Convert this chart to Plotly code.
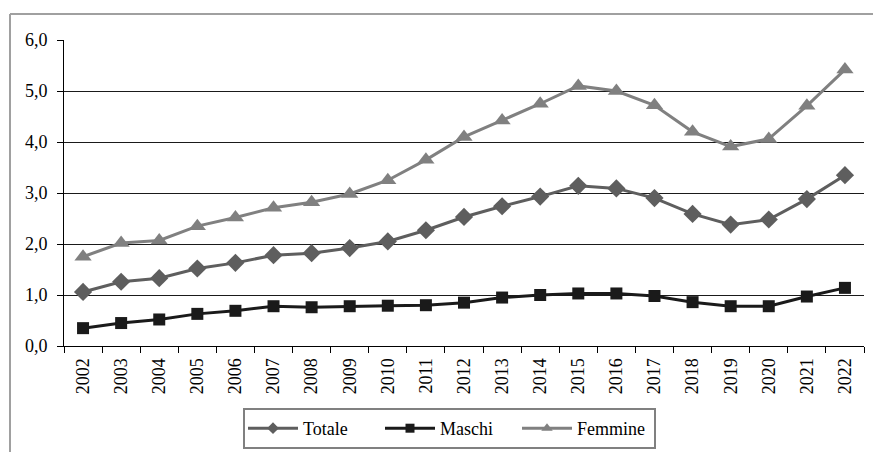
import plotly.graph_objects as go

years = [str(y) for y in range(2002, 2023)]
totale = [1.06, 1.26, 1.33, 1.52, 1.63, 1.78, 1.82, 1.92, 2.05, 2.27, 2.53, 2.74, 2.93, 3.14, 3.09, 2.90, 2.59, 2.38, 2.48, 2.88, 3.35]
maschi = [0.35, 0.45, 0.52, 0.63, 0.69, 0.78, 0.76, 0.78, 0.79, 0.80, 0.85, 0.95, 1.00, 1.03, 1.03, 0.98, 0.86, 0.78, 0.78, 0.97, 1.14]
femmine = [1.75, 2.02, 2.07, 2.35, 2.52, 2.71, 2.82, 2.98, 3.25, 3.65, 4.10, 4.42, 4.75, 5.10, 5.00, 4.72, 4.20, 3.91, 4.06, 4.71, 5.42]
y_ticks = [0, 1, 2, 3, 4, 5, 6]
y_tick_labels = ["0,0", "1,0", "2,0", "3,0", "4,0", "5,0", "6,0"]

FONT = "Liberation Serif, Times New Roman, serif"
W, H = 873, 452

series = [
    ("Totale", totale, "#5e5e5e", "diamond", 14, 9),
    ("Maschi", maschi, "#1a1a1a", "square", 12, 9),
    ("Femmine", femmine, "#808080", "triangle-up", 15, 10),
]

fig = go.Figure()
for name, vals, col, sym, msize, lsize in series:
    fig.add_trace(go.Scatter(x=years, y=vals, name=name, mode="lines+markers",
                             line=dict(color=col, width=3), showlegend=False,
                             legendgroup=name,
                             marker=dict(symbol=sym, size=msize, color=col)))
for name, vals, col, sym, msize, lsize in series:
    # legend entry with the smaller legend marker
    fig.add_trace(go.Scatter(x=[years[0]], y=[None], name=name, mode="lines+markers",
                             line=dict(color=col, width=3), legendgroup=name,
                             marker=dict(symbol=sym, size=lsize, color=col)))

fig.update_layout(
    width=W, height=H,
    margin=dict(l=64, r=9, t=40, b=106, autoexpand=False),
    paper_bgcolor="white", plot_bgcolor="white",
    font=dict(family=FONT, size=18, color="black"),
    showlegend=True,
    legend=dict(orientation="h", x=449.5 / W, xref="container", xanchor="center",
                y=(H - 408) / H, yref="container", yanchor="top",
                bordercolor="#808080", borderwidth=2, font=dict(size=18, family=FONT),
                itemwidth=50, entrywidth=72, tracegroupgap=0),
    xaxis=dict(type="category", tickson="boundaries", ticks="outside", ticklen=6,
               tickcolor="black", showline=True, linecolor="black", linewidth=1,
               showgrid=False, tickangle=-90, tickfont=dict(size=18, family=FONT),
               ticklabelstandoff=4, range=[-0.5, 20.5]),
    yaxis=dict(range=[0, 6], tickvals=y_ticks, ticktext=y_tick_labels,
               ticks="outside", ticklen=6, tickcolor="black",
               showline=True, linecolor="black", linewidth=1,
               showgrid=True, gridcolor="#1a1a1a", gridwidth=1, zeroline=False,
               ticklabelstandoff=6, tickfont=dict(size=18, family=FONT)),
)

# outer chart frame (top and left edges visible)
fig.add_shape(type="line", xref="paper", yref="paper", x0=-0.0675, x1=1.05, y0=1.085, y1=1.085,
              line=dict(color="#a0a0a0", width=2))
fig.add_shape(type="line", xref="paper", yref="paper", x0=-0.0675, x1=-0.0675, y0=1.085, y1=-0.4,
              line=dict(color="#a0a0a0", width=2))

fig.write_html(
    "out.html",
    config={"displayModeBar": False},
    post_script="document.body.style.margin='0';document.body.style.overflow='hidden';",
)
